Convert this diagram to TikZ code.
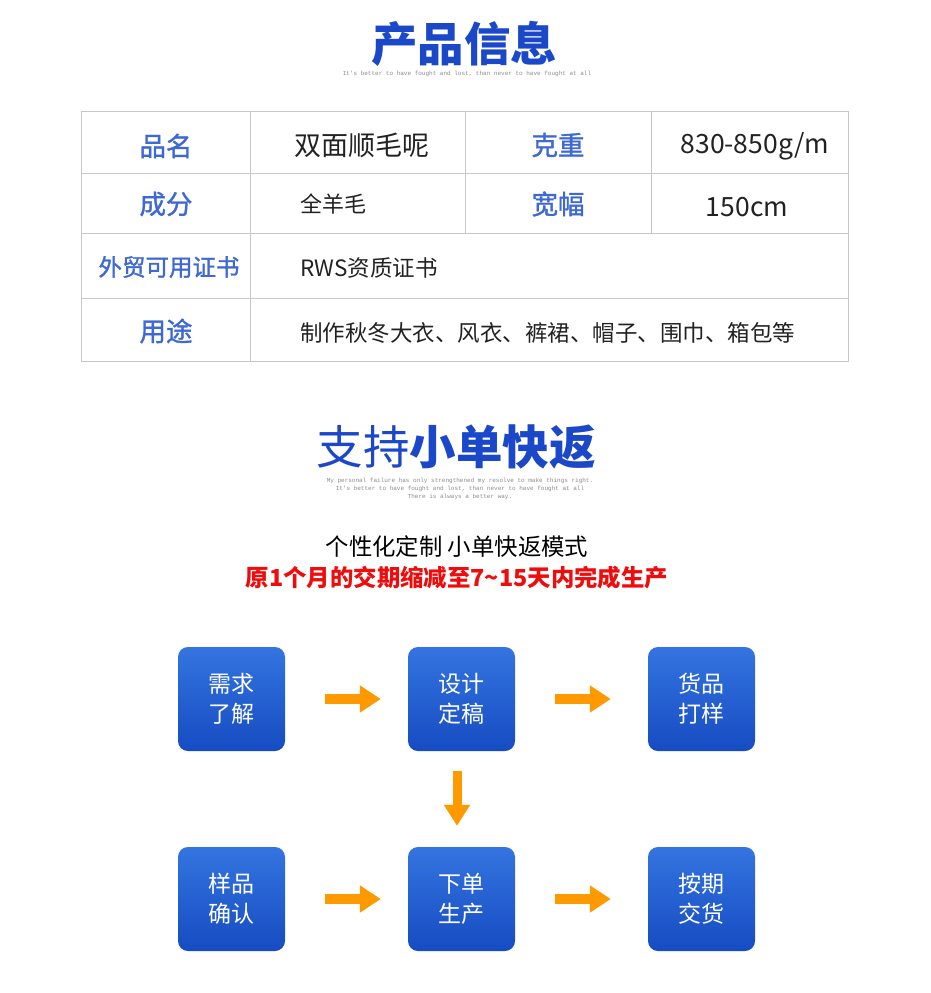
\documentclass[tikz,border=0pt]{standalone}
\usepackage{fontspec}
\setmainfont{Noto Sans CJK SC}
\newfontfamily\medf[FakeBold=1.3]{Noto Sans CJK SC}
\newfontfamily\monof{Liberation Mono}
\usetikzlibrary{arrows.meta}
\definecolor{titleblue}{RGB}{26,72,200}
\definecolor{labelblue}{RGB}{62,104,210}
\definecolor{boxtop}{RGB}{52,116,224}
\definecolor{boxbot}{RGB}{22,76,194}
\definecolor{arroworange}{RGB}{255,153,0}
\definecolor{deadlinered}{RGB}{240,12,12}
\definecolor{gridgray}{RGB}{200,200,200}
\definecolor{subgray}{RGB}{140,140,140}
\definecolor{textdark}{RGB}{34,34,34}
\tikzset{
  titletext/.style={font=\fontsize{46.5}{50}\selectfont\bfseries, text=titleblue, inner sep=0},
  subtext/.style={font=\monof\fontsize{6}{8}\selectfont, text=subgray, inner sep=0, align=center},
  labeltext/.style={font=\medf\fontsize{26.5}{30}\selectfont, text=labelblue, inner sep=0},
  valuetext/.style={font=\fontsize{22}{28}\selectfont, text=textdark, inner sep=0},
  flowbox/.style={rounded corners=10pt, top color=boxtop, bottom color=boxbot, draw=none,
    minimum width=107pt, minimum height=104pt, inner sep=0, align=center,
    text=white, font=\fontsize{23}{30}\selectfont},
  flowarrow/.style={draw=arroworange, line width=10.5pt, -{Triangle[length=21pt,width=26pt]}},
  gridline/.style={draw=gridgray, line width=1pt}
}
\begin{document}
\begin{tikzpicture}[x=1pt,y=-1pt]
\useasboundingbox[fill=white] (0,0) rectangle (930,993);

% ---- title 1
\node[titletext] (title1) at (464,44) {产品信息};
\node[subtext] (sub1) at (467,74) {It's better to have fought and lost, than never to have fought at all};

% ---- table
\draw[gridline] (81.5,111.5) rectangle (848,361.5);
\draw[gridline] (81.5,173.5) -- (848,173.5);
\draw[gridline] (81.5,233.5) -- (848,233.5);
\draw[gridline] (81.5,298.5) -- (848,298.5);
\draw[gridline] (250.5,111.5) -- (250.5,361.5);
\draw[gridline] (465.5,111.5) -- (465.5,233.5);
\draw[gridline] (651.5,111.5) -- (651.5,233.5);

\node[labeltext] (l1) at (166,146) {品名};
\node[valuetext, font=\fontsize{27}{30}\selectfont] (v1) at (362,145) {双面顺毛呢};
\node[labeltext] (l2) at (558,145) {克重};
\node[valuetext, font=\fontsize{26.5}{30}\selectfont] (v2) at (755,146) {830-850g/m};

\node[labeltext] (l3) at (166,204) {成分};
\node[valuetext, anchor=west] (v3) at (300,204) {全羊毛};
\node[labeltext] (l4) at (558,204) {宽幅};
\node[valuetext, font=\fontsize{26.5}{30}\selectfont] (v4) at (747,207) {150cm};

\node[labeltext, font=\medf\fontsize{23.5}{28}\selectfont] (l5) at (169,267) {外贸可用证书};
\node[valuetext, font=\fontsize{22.5}{28}\selectfont, anchor=west] (v5) at (300,268) {RWS资质证书};

\node[labeltext] (l6) at (166,331) {用途};
\node[valuetext, font=\fontsize{22.5}{28}\selectfont, anchor=west] (v6) at (300,333) {制作秋冬大衣、风衣、裤裙、帽子、围巾、箱包等};

% ---- title 2
\node[titletext, font=\fontsize{46.5}{50}\selectfont] (title2) at (456,447) {支持\textbf{小单快返}};
\node[subtext] (sub2) at (460,489) {My personal failure has only strengthened my resolve to make things right.\\It's better to have fought and lost, than never to have fought at all\\There is always a better way.};

\node[valuetext, font=\fontsize{23.4}{28}\selectfont, text=black] (slogan) at (457,547) {个性化定制 小单快返模式};
\node[valuetext, font=\fontsize{23.4}{28}\selectfont\bfseries, text=deadlinered] (red) at (457,578) {原1个月的交期缩减至7\char"007E 15天内完成生产};

% ---- flow
\node[flowbox] (b1) at (231.5,699) {需求\\了解};
\node[flowbox] (b2) at (461.5,699) {设计\\定稿};
\node[flowbox] (b3) at (701.5,699) {货品\\打样};
\node[flowbox] (b4) at (231.5,899) {样品\\确认};
\node[flowbox] (b5) at (461.5,899) {下单\\生产};
\node[flowbox] (b6) at (701.5,899) {按期\\交货};

\draw[flowarrow, shorten <=40pt, shorten >=27pt] (b1.east) -- (b2.west);
\draw[flowarrow, shorten <=40pt, shorten >=37pt] (b2.east) -- (b3.west);
\draw[flowarrow, line width=9pt, -{Triangle[length=21pt,width=25pt]}, shorten <=20pt, shorten >=21pt] ([xshift=-4.5pt]b2.south) -- ([xshift=-4.5pt]b5.north);
\draw[flowarrow, shorten <=40pt, shorten >=27pt] (b4.east) -- (b5.west);
\draw[flowarrow, shorten <=40pt, shorten >=37pt] (b5.east) -- (b6.west);
\end{tikzpicture}
\end{document}
